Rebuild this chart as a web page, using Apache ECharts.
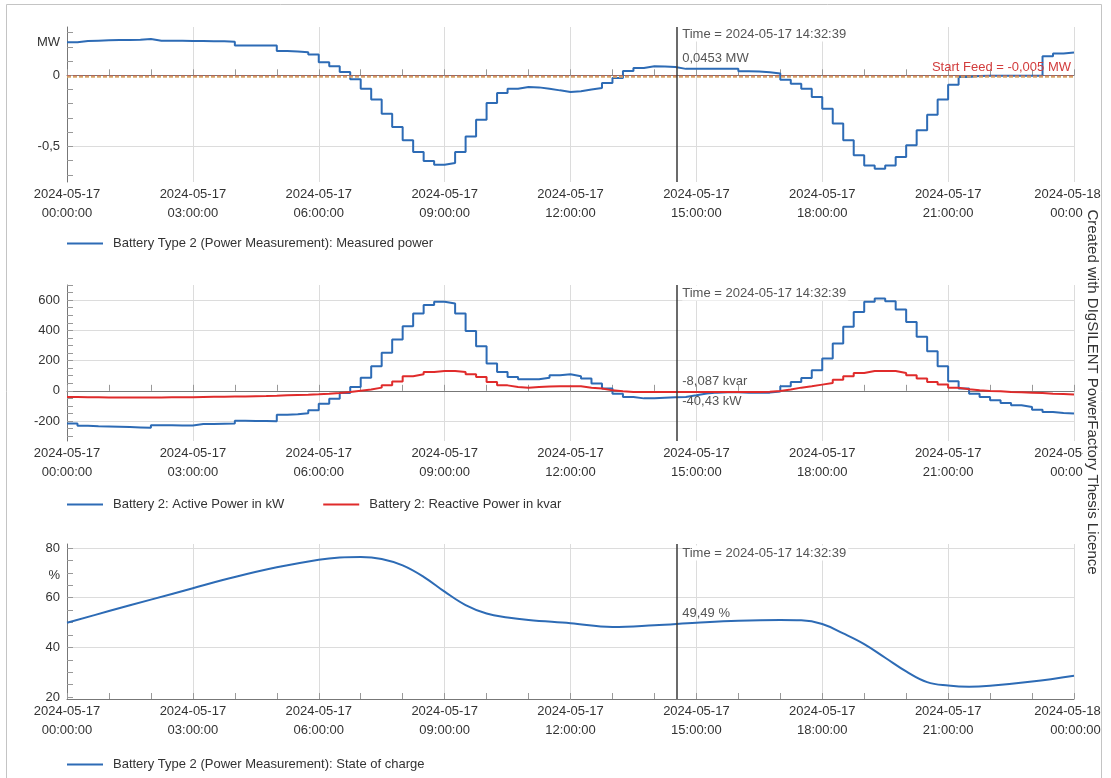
<!DOCTYPE html>
<html>
<head>
<meta charset="utf-8">
<script src="https://cdn.jsdelivr.net/npm/echarts@6/dist/echarts.min.js"></script>
<style>html,body{margin:0;padding:0;background:#fff;overflow:hidden}#c{width:1111px;height:778px}</style>
</head>
<body>
<div id="c"></div>
<script>
// ---------------- data ----------------
const STEP_H = 0.25;               // 15-minute sampling of the step series (hours)
const CURSOR_H = 14 + 32/60 + 39/3600;  // 2024-05-17 14:32:39
const START_FEED_MW = -0.005;

const S_MEAS = 'Battery Type 2 (Power Measurement): Measured power';
const S_P = 'Battery 2: Active Power in kW';
const S_Q = 'Battery 2: Reactive Power in kvar';
const S_SOC = 'Battery Type 2 (Power Measurement): State of charge';

const MEASURED_POWER_MW = [
  0.232, 0.242, 0.244, 0.246,
  0.248, 0.249, 0.251, 0.256,
  0.243, 0.243, 0.243, 0.242,
  0.241, 0.240, 0.239, 0.237,
  0.209, 0.209, 0.209, 0.209,
  0.171, 0.168, 0.163, 0.146,
  0.092, 0.063, 0.024, -0.028,
  -0.094, -0.171, -0.270, -0.364,
  -0.458, -0.540, -0.603, -0.629,
  -0.617, -0.540, -0.430, -0.312,
  -0.195, -0.124, -0.094, -0.082,
  -0.085, -0.094, -0.106, -0.117,
  -0.112, -0.100, -0.089, -0.054,
  -0.019, 0.031, 0.052, 0.063,
  0.062, 0.058, 0.0453, 0.047,
  0.047, 0.047, 0.047, 0.047,
  0.028, 0.026, 0.022, 0.012,
  -0.031, -0.059, -0.094, -0.153,
  -0.235, -0.340, -0.458, -0.563,
  -0.634, -0.657, -0.634, -0.575,
  -0.493, -0.387, -0.277, -0.171,
  -0.066, -0.012, -0.005, -0.004,
  -0.004, -0.004, -0.004, -0.004,
  -0.004, 0.134, 0.153, 0.160,
  0.160
];

const ACTIVE_POWER_KW = [
  -217, -231, -234, -236,
  -238, -240, -242, -244,
  -227, -228, -229, -229,
  -220, -219, -218, -217,
  -198, -199, -200, -201,
  -158, -155, -148, -129,
  -85, -52, -14, 25,
  87, 162, 251, 339,
  427, 512, 567, 589,
  578, 512, 396, 295,
  180, 125, 92, 76,
  76, 87, 103, 109,
  96, 81, 48, 15,
  -19, -41, -50, -50,
  -46, -43, -40.43, -30,
  -18, -12, -10, -10,
  -12, -13, -12, -5,
  30, 58, 85, 136,
  213, 313, 423, 522,
  589, 611, 593, 538,
  456, 357, 262, 162,
  63, 15, -19, -41,
  -63, -81, -96, -107,
  -125, -140, -147, -150,
  -150
];

const REACTIVE_POWER_KVAR = [
  -41, -42, -43, -44,
  -44, -45, -45, -45,
  -44, -43, -43, -42,
  -41, -40, -39, -38,
  -37, -36, -35, -33,
  -30, -28, -26, -23,
  -19, -14, -8, 0,
  8, 21, 36, 62,
  96, 109, 125, 131,
  131, 125, 109, 92,
  58, 36, 25, 21,
  25, 28, 30, 30,
  30, 21, 15, 3,
  -3, -8, -8, -8,
  -8, -8, -8.087, -8,
  -8, -8, -8, -8,
  -8, -8, -6, -1,
  8, 21, 30, 41,
  52, 74, 96, 118,
  131, 131, 131, 118,
  103, 81, 58, 41,
  21, 10, 3, -1,
  -3, -8, -10, -12,
  -15, -19, -21, -25,
  -25
];

const SOC_HOURS = [0,1,2,3,4,5,6,6.5,7,7.5,8,8.5,9,9.5,10,10.5,11,12,13,14,15,16,17,17.5,18,18.5,19,19.5,20,20.5,21,21.5,22,23,24];
const SOC_PCT   = [49.9,54.6,59.2,63.8,68.3,72.2,75.3,76.2,76.4,75.6,73.0,68.4,62.4,57.0,53.6,52.0,51.0,49.7,48.2,48.9,49.9,50.7,51.0,50.9,49.4,45.6,41.3,35.8,30.3,26.0,24.6,24.1,24.5,26.2,28.6];

// y-axis ticks and labels
const Y0_TICKS = [-0.7,-0.6,-0.5,-0.4,-0.3,-0.2,-0.1,0,0.1,0.2,0.3];
const Y0_LABELS = [-0.5, 0];
const Y1_TICKS = [-300,-250,-200,-150,-100,-50,0,50,100,150,200,250,300,350,400,450,500,550,600,650,700];
const Y1_LABELS = [-200, 0, 200, 400, 600];
const Y2_TICKS = [20,25,30,35,40,45,50,55,60,65,70,75,80];
const Y2_GRID = [40, 60, 80];
const Y2_LABELS = [20, 40, 60, 80];

const CURSOR_VALUES = { mw: 0.0453, kvar: -8.087, kw: -40.43, soc: 49.49 };

// ---------------- style ----------------
const FONT = '"Liberation Sans", Arial, sans-serif';
const BLUE = '#2d6bb5';
const RED = '#e02b2b';
const GRID_C = '#dcdcdc';
const AXIS_C = '#777';
const TICK_C = '#999';

function dec(v) { return String(v).replace('.', ','); }
function pad(n) { return (n < 10 ? '0' : '') + n; }
function timeLabel(h) {
  const day = 17 + Math.floor(h / 24);
  const hh = h % 24;
  const d = '2024-05-' + day;
  const t = pad(hh) + ':00:00';
  if (h === 24) return '{r|' + d + '}\n{r|' + t + '}';
  return d + '\n' + t;
}
function series15(values) { return values.map((v, i) => [i * STEP_H, v]); }

function xAxis(gi) {
  return {
    type: 'value', gridIndex: gi, min: 0, max: 24, interval: 3,
    axisLine: { show: true, lineStyle: { color: AXIS_C } },
    axisTick: { show: true, inside: true, length: 6, lineStyle: { color: TICK_C } },
    minorTick: { show: true, splitNumber: 3, length: 6, lineStyle: { color: TICK_C } },
    splitLine: { show: true, lineStyle: { color: GRID_C } },
    minorSplitLine: { show: false },
    axisLabel: {
      color: '#333', fontSize: 13, fontFamily: FONT, lineHeight: 19, margin: 3,
      showMinLabel: true, showMaxLabel: true,
      formatter: timeLabel,
      rich: { r: { align: 'right', padding: [0, 13, 0, 0], fontSize: 13, fontFamily: FONT, color: '#333', lineHeight: 19 } }
    }
  };
}
function yAxis(gi, min, max, ticks, labels, gridVals) {
  return {
    type: 'value', gridIndex: gi, min: min, max: max,
    axisLine: { show: true, lineStyle: { color: AXIS_C } },
    axisTick: { show: true, inside: true, length: 6, customValues: ticks, lineStyle: { color: TICK_C } },
    axisLabel: { customValues: labels, color: '#333', fontSize: 13, fontFamily: FONT, margin: 7, formatter: dec },
    splitLine: { show: true, lineStyle: { color: ticks.map(t => gridVals.indexOf(t) >= 0 ? GRID_C : 'rgba(0,0,0,0)') } }
  };
}

const cursorLine = { xAxis: CURSOR_H, lineStyle: { color: '#3a3a3a', width: 1.5, type: 'solid' }, label: { show: false } };
const legendBase = { itemWidth: 36, itemHeight: 2, itemGap: 39, padding: 0, icon: 'rect',
  textStyle: { fontSize: 13, color: '#333', fontFamily: FONT, padding: [0, 0, 0, 5] } };
const gridBase = { left: 67, right: 37, containLabel: false, outerBoundsMode: 'none' };

const option = {
  animation: false,
  backgroundColor: '#fff',
  textStyle: { fontFamily: FONT },
  grid: [
    Object.assign({ top: 27, height: 155 }, gridBase),
    Object.assign({ top: 285, height: 156 }, gridBase),
    Object.assign({ top: 544, height: 155 }, gridBase)
  ],
  xAxis: [xAxis(0), xAxis(1), xAxis(2)],
  yAxis: [
    yAxis(0, -0.751, 0.34, Y0_TICKS, Y0_LABELS, Y0_LABELS),
    yAxis(1, -332, 700, Y1_TICKS, Y1_LABELS, Y1_LABELS),
    yAxis(2, 19.2, 81.6, Y2_TICKS, Y2_LABELS, Y2_GRID)
  ],
  legend: [
    Object.assign({ left: 67, top: 237, data: [S_MEAS] }, legendBase),
    Object.assign({ left: 67, top: 498, data: [S_P, S_Q] }, legendBase),
    Object.assign({ left: 67, top: 758, data: [S_SOC] }, legendBase)
  ],
  series: [
    {
      name: S_MEAS, type: 'line', xAxisIndex: 0, yAxisIndex: 0, step: 'end', symbol: 'none',
      data: series15(MEASURED_POWER_MW),
      lineStyle: { color: BLUE, width: 2 }, itemStyle: { color: BLUE }, z: 2,
      markLine: {
        silent: true, symbol: ['none', 'none'], animation: false,
        data: [
          { yAxis: 0, lineStyle: { color: '#c0604f', type: [4, 2], width: 1.5 }, label: { show: false } },
          { yAxis: START_FEED_MW, lineStyle: { color: '#d9a866', type: [4, 2], width: 1.5 },
            label: { show: true, position: 'insideEndTop', distance: 3, color: '#d23c3c', fontSize: 13, fontFamily: FONT,
                     formatter: 'Start Feed = ' + dec(START_FEED_MW) + ' MW' } },
          cursorLine
        ]
      }
    },
    {
      name: S_P, type: 'line', xAxisIndex: 1, yAxisIndex: 1, step: 'end', symbol: 'none',
      data: series15(ACTIVE_POWER_KW),
      lineStyle: { color: BLUE, width: 2 }, itemStyle: { color: BLUE }, z: 2,
      markLine: { silent: true, symbol: ['none', 'none'], animation: false, data: [cursorLine] }
    },
    {
      name: S_Q, type: 'line', xAxisIndex: 1, yAxisIndex: 1, step: 'end', symbol: 'none',
      data: series15(REACTIVE_POWER_KVAR),
      lineStyle: { color: RED, width: 2 }, itemStyle: { color: RED }, z: 3
    },
    {
      name: S_SOC, type: 'line', xAxisIndex: 2, yAxisIndex: 2, symbol: 'none', smooth: 0.4,
      data: SOC_HOURS.map((h, i) => [h, SOC_PCT[i]]),
      lineStyle: { color: BLUE, width: 2 }, itemStyle: { color: BLUE }, z: 2,
      markLine: { silent: true, symbol: ['none', 'none'], animation: false, data: [cursorLine] }
    }
  ]
};

const chart = echarts.init(document.getElementById('c'), null, { renderer: 'canvas' });
chart.setOption(option);

// ---------------- annotations (positioned from data through the axes) ----------------
const px = (g, x, y) => chart.convertToPixel({ gridIndex: g }, [x, y]);
const Y_MAX = [0.34, 700, 81.6];
const TIME_DY = [7, 8, 9];
const txt = (x, y, text, extra) => ({
  type: 'text', x: x, y: y, z: 50,
  style: Object.assign({ text: text, fontSize: 13, fontFamily: FONT, fill: '#555', align: 'left', verticalAlign: 'middle' }, extra || {})
});
const tLabel = 'Time = 2024-05-17 14:32:39';
const graphics = [];
for (let g = 0; g < 3; g++) {
  const q = px(g, CURSOR_H, Y_MAX[g]);
  graphics.push(txt(q[0] + 5, q[1] + TIME_DY[g], tLabel, { backgroundColor: '#fff', padding: [1, 2, 1, 0] }));
}
let p = px(0, CURSOR_H, CURSOR_VALUES.mw);
graphics.push(txt(p[0] + 5, p[1] - 10, dec(CURSOR_VALUES.mw) + ' MW'));
p = px(1, CURSOR_H, CURSOR_VALUES.kvar);
graphics.push(txt(p[0] + 5, p[1] - 11, dec(CURSOR_VALUES.kvar) + ' kvar'));
p = px(1, CURSOR_H, CURSOR_VALUES.kw);
graphics.push(txt(p[0] + 5, p[1] + 4, dec(CURSOR_VALUES.kw) + ' kW'));
p = px(2, CURSOR_H, CURSOR_VALUES.soc);
graphics.push(txt(p[0] + 5, p[1] - 10, dec(CURSOR_VALUES.soc) + ' %'));

// unit labels on the value axes
graphics.push(txt(60, 42, 'MW', { fill: '#333', align: 'right' }));
graphics.push(txt(60, 575, '%', { fill: '#333', align: 'right' }));

// outer frame
graphics.push({ type: 'rect', z: 0, silent: true,
  shape: { x: 6.5, y: 4.5, width: 1095, height: 800 },
  style: { fill: 'none', stroke: '#c4c4c4', lineWidth: 1 } });

// vertical licence text
graphics.push({ type: 'text', x: 1092, y: 392, rotation: -Math.PI / 2, z: 100,
  style: { text: 'Created with DIgSILENT PowerFactory Thesis Licence', fontSize: 15, fontFamily: FONT,
           fill: '#333', align: 'center', verticalAlign: 'middle', backgroundColor: '#fff', padding: [2, 6, 1, 6] } });

chart.setOption({ graphic: graphics });
</script>
</body>
</html>
